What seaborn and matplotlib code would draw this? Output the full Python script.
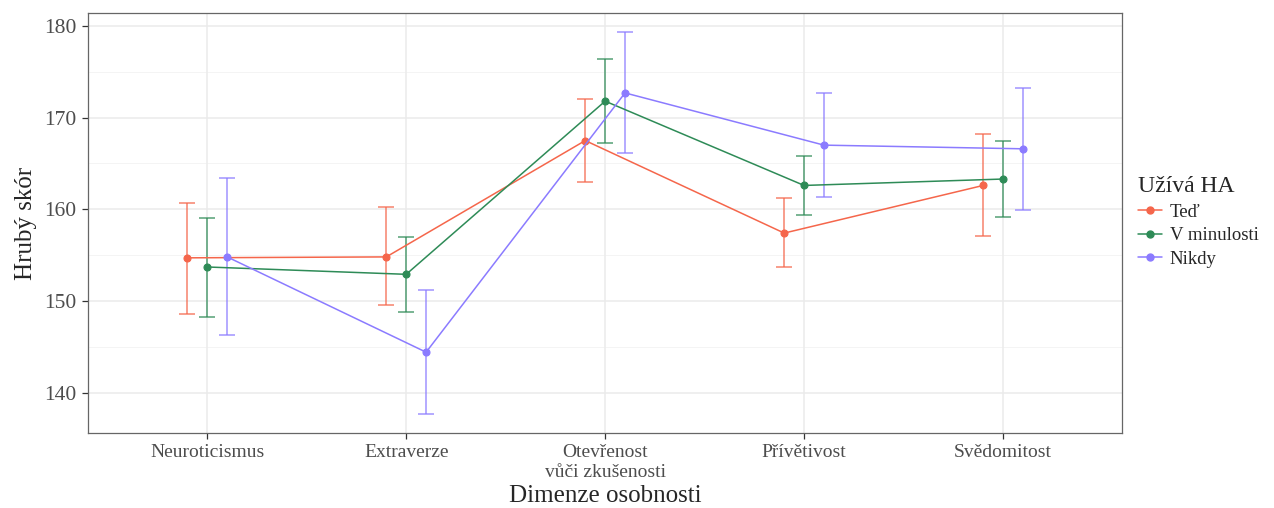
import numpy as np
import pandas as pd
import seaborn as sns
import matplotlib.pyplot as plt
from matplotlib.lines import Line2D

dimenze = ['Neuroticismus', 'Extraverze', 'Otevřenost\nvůči zkušenosti', 'Přívětivost', 'Svědomitost']
skupiny = ['Teď', 'V minulosti', 'Nikdy']

# průměry a meze intervalů
ted_mean = [154.7, 154.8, 167.5, 157.4, 162.6]
ted_low = [148.6, 149.5, 163.0, 153.7, 157.1]
ted_high = [160.7, 160.2, 172.0, 161.2, 168.2]

minul_mean = [153.7, 152.9, 171.8, 162.6, 163.3]
minul_low = [148.2, 148.8, 167.2, 159.4, 159.2]
minul_high = [159.1, 157.0, 176.4, 165.8, 167.5]

nikdy_mean = [154.8, 144.4, 172.7, 167.0, 166.6]
nikdy_low = [146.3, 137.7, 166.1, 161.3, 159.9]
nikdy_high = [163.4, 151.2, 179.3, 172.7, 173.2]

barvy = ['#F5664B', '#2E8B57', '#8B7BFF']

df = pd.DataFrame({
    'dimenze': dimenze * 3,
    'skupina': np.repeat(skupiny, len(dimenze)),
    'mean': ted_mean + minul_mean + nikdy_mean,
    'low': ted_low + minul_low + nikdy_low,
    'high': ted_high + minul_high + nikdy_high,
})

sns.set_style('white')
plt.rcParams['font.family'] = ['Liberation Serif', 'DejaVu Serif']

fig = plt.figure(figsize=(12.74, 5.08), dpi=100)
ax = fig.add_axes([0.069, 0.148, 0.812, 0.826])

# mřížka
for v in [140, 150, 160, 170, 180]:
    ax.axhline(v, color='#EBEBEB', lw=1.1, zorder=0)
for v in [145, 155, 165, 175]:
    ax.axhline(v, color='#F2F2F2', lw=0.6, zorder=0)
for i in range(len(dimenze)):
    ax.axvline(i, color='#EBEBEB', lw=1.1, zorder=0)

sns.pointplot(data=df, x='dimenze', y='mean', hue='skupina', hue_order=skupiny,
              palette=barvy, dodge=0.2, errorbar=None, markers='o',
              markersize=5, linewidth=1.1, ax=ax, legend=False)

offsets = [-0.1, 0.0, 0.1]
for k, sk in enumerate(skupiny):
    d = df[df['skupina'] == sk]
    x = np.arange(len(dimenze)) + offsets[k]
    ax.errorbar(x, d['mean'], yerr=[d['mean'] - d['low'], d['high'] - d['mean']],
                fmt='none', ecolor=barvy[k], elinewidth=1.2, capsize=6,
                capthick=1.2, alpha=0.75, zorder=1)

ax.set_xlim(-0.6, 4.6)
ax.set_ylim(135.6, 181.4)
ax.set_yticks([140, 150, 160, 170, 180])
ax.set_xticks(range(len(dimenze)))
ax.set_xticklabels(dimenze, fontsize=14, color='#4D4D4D', linespacing=1.25)
ax.tick_params(axis='y', labelsize=15.5, labelcolor='#4D4D4D')
ax.tick_params(axis='both', length=4, width=0.9, color='#333333', direction='out',
               left=True, bottom=True, pad=4)
for s in ax.spines.values():
    s.set_color('#666666')
    s.set_linewidth(0.9)

ax.set_xlabel('Dimenze osobnosti', fontsize=18, labelpad=3)
ax.set_ylabel('Hrubý skór', fontsize=18, labelpad=5)

handles = [Line2D([0], [0], color=c, lw=1.1, marker='o', markersize=5) for c in barvy]
leg = fig.legend(handles, skupiny, title='Užívá HA', loc='center left',
                 bbox_to_anchor=(0.88, 0.563), frameon=False, fontsize=13.5,
                 title_fontsize=17, handlelength=1.3, handletextpad=0.4,
                 labelspacing=0.35)
leg._legend_box.align = 'left'

fig.savefig('out.png', dpi=100)
